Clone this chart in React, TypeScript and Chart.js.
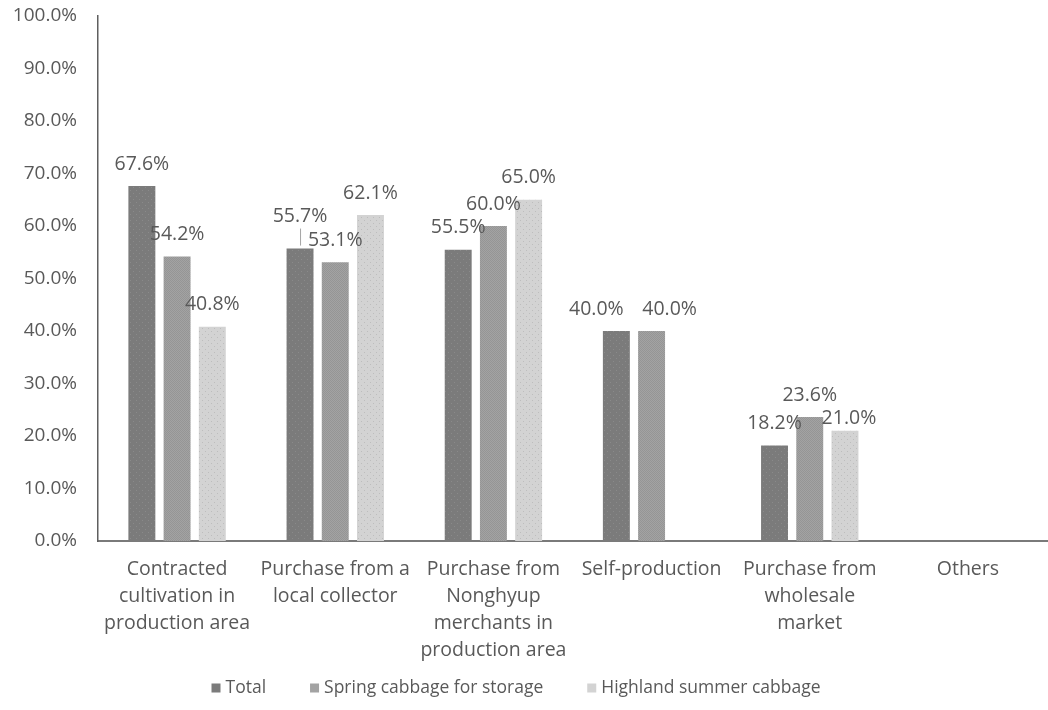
import React, { useEffect, useRef } from "react";
import { Chart, registerables } from "chart.js";

Chart.register(...registerables);

const CATEGORIES: string[][] = [
  ["Contracted", "cultivation in", "production area"],
  ["Purchase from a", "local collector"],
  ["Purchase from", "Nonghyup", "merchants in", "production area"],
  ["Self-production"],
  ["Purchase from", "wholesale", "market"],
  ["Others"],
];

const SERIES_NAMES = ["Total", "Spring cabbage for storage", "Highland summer cabbage"];
const TOTAL: (number | null)[] = [67.6, 55.7, 55.5, 40.0, 18.2, null];
const SPRING: (number | null)[] = [54.2, 53.1, 60.0, 40.0, 23.6, null];
const HIGHLAND: (number | null)[] = [40.8, 62.1, 65.0, null, 21.0, null];

const Y_MIN = 0;
const Y_MAX = 100;
const Y_STEP = 10;

const FONT = "'Open Sans', 'Liberation Sans', sans-serif";
const TEXT = "#595959";
const BASE_COLORS = ["#7b7b7b", "#a3a3a3", "#d3d3d3"];

// label nudges (dataset-index -> dx, dy, leader line) to mimic the reference placement
const LABEL_NUDGE: Record<string, { dx: number; dy: number; leader?: boolean }> = {
  "0-1": { dx: 0, dy: -10, leader: true },
  "0-3": { dx: -20, dy: 0 },
  "1-3": { dx: 18, dy: 0 },
  "2-4": { dx: 4, dy: 10 },
};

function makePattern(kind: number): CanvasPattern | string {
  const c = document.createElement("canvas");
  const size = 6;
  c.width = size;
  c.height = size;
  const g = c.getContext("2d");
  if (!g) return BASE_COLORS[kind];
  g.fillStyle = BASE_COLORS[kind];
  g.fillRect(0, 0, size, size);
  if (kind === 0) {
    g.fillStyle = "#8a8a8a";
    g.fillRect(1, 1, 1, 1);
    g.fillRect(4, 4, 1, 1);
  } else if (kind === 1) {
    g.fillStyle = "#959595";
    for (let y = 0; y < size; y++) {
      for (let x = 0; x < size; x++) {
        if ((x + y) % 2 === 0) g.fillRect(x, y, 1, 1);
      }
    }
  } else {
    g.fillStyle = "#bdbdbd";
    g.fillRect(1, 1, 1, 1);
    g.fillRect(4, 4, 1, 1);
  }
  const pat = g.createPattern(c, "repeat");
  return pat || BASE_COLORS[kind];
}

const dataLabelPlugin = {
  id: "dataLabels",
  afterDatasetsDraw(chart: any) {
    const ctx = chart.ctx;
    ctx.save();
    ctx.font = `19.5px ${FONT}`;
    ctx.fillStyle = TEXT;
    ctx.textAlign = "center";
    ctx.textBaseline = "middle";
    chart.data.datasets.forEach((ds: any, di: number) => {
      const meta = chart.getDatasetMeta(di);
      meta.data.forEach((el: any, i: number) => {
        const v = ds.data[i];
        if (v === null || v === undefined) return;
        const n = LABEL_NUDGE[`${di}-${i}`] || { dx: 0, dy: 0 };
        const x = el.x + n.dx;
        const y = el.y - 22 + n.dy;
        ctx.fillText(v.toFixed(1) + "%", x, y);
        if (n.leader) {
          ctx.strokeStyle = "#a6a6a6";
          ctx.lineWidth = 1;
          ctx.beginPath();
          ctx.moveTo(el.x + 0.5, y + 12);
          ctx.lineTo(el.x + 0.5, el.y - 3);
          ctx.stroke();
        }
      });
    });
    ctx.restore();
  },
};

const legendPlugin = {
  id: "customLegend",
  afterDraw(chart: any) {
    const ctx = chart.ctx;
    ctx.save();
    ctx.font = `17.5px ${FONT}`;
    ctx.textBaseline = "middle";
    ctx.textAlign = "left";
    const box = 9;
    const boxGap = 5;
    const itemGap = 44;
    const widths = SERIES_NAMES.map((s) => box + boxGap + ctx.measureText(s).width);
    const total = widths.reduce((a, b) => a + b, 0) + itemGap * (SERIES_NAMES.length - 1);
    let x = 516 - total / 2;
    const y = 688;
    SERIES_NAMES.forEach((s, i) => {
      ctx.fillStyle = BASE_COLORS[i];
      ctx.fillRect(x, y - box / 2, box, box);
      ctx.fillStyle = TEXT;
      ctx.fillText(s, x + box + boxGap, y);
      x += widths[i] + itemGap;
    });
    ctx.restore();
  },
};

export default function App() {
  const ref = useRef<HTMLCanvasElement | null>(null);

  useEffect(() => {
    if (!ref.current) return;
    const fills = [makePattern(0), makePattern(1), makePattern(2)];
    const seriesData = [TOTAL, SPRING, HIGHLAND];
    const chart = new Chart(ref.current, {
      type: "bar",
      data: {
        labels: CATEGORIES,
        datasets: seriesData.map((d, i) => ({
          label: SERIES_NAMES[i],
          data: d,
          backgroundColor: fills[i] as any,
          borderWidth: 0,
          categoryPercentage: 0.668,
          barPercentage: 0.765,
        })),
      },
      options: {
        responsive: false,
        animation: false,
        maintainAspectRatio: false,
        layout: { padding: { top: 16, right: 1, left: 0, bottom: 0 } },
        plugins: {
          legend: { display: false },
          tooltip: { enabled: false },
          title: { display: false },
        },
        scales: {
          x: {
            grid: { display: false, drawTicks: false },
            border: { display: true, color: "#7a7a7a", width: 2 },
            ticks: {
              color: TEXT,
              font: { family: FONT, size: 19.5, lineHeight: 1.385 },
              padding: 15,
              maxRotation: 0,
              autoSkip: false,
            },
            afterFit(scale: any) {
              scale.height = 710 - 541;
              scale.paddingLeft = 0;
              scale.paddingRight = 0;
            },
          },
          y: {
            min: Y_MIN,
            max: Y_MAX,
            grid: { display: false, drawTicks: false },
            border: { display: true, color: "#5f5f5f", width: 1.5 },
            ticks: {
              stepSize: Y_STEP,
              color: TEXT,
              font: { family: FONT, size: 19 },
              padding: 21,
              callback: (v: any) => Number(v).toFixed(1) + "%",
            },
            afterFit(scale: any) {
              scale.width = 98;
              scale.paddingTop = 0;
              scale.paddingBottom = 0;
            },
          },
        },
      },
      plugins: [dataLabelPlugin, legendPlugin],
    });
    return () => chart.destroy();
  }, []);

  return (
    <div style={{ position: "fixed", left: 0, top: 0, width: 1048, height: 710, background: "#ffffff" }}>
      <canvas ref={ref} width={1048} height={710} style={{ width: 1048, height: 710, display: "block" }} />
    </div>
  );
}
